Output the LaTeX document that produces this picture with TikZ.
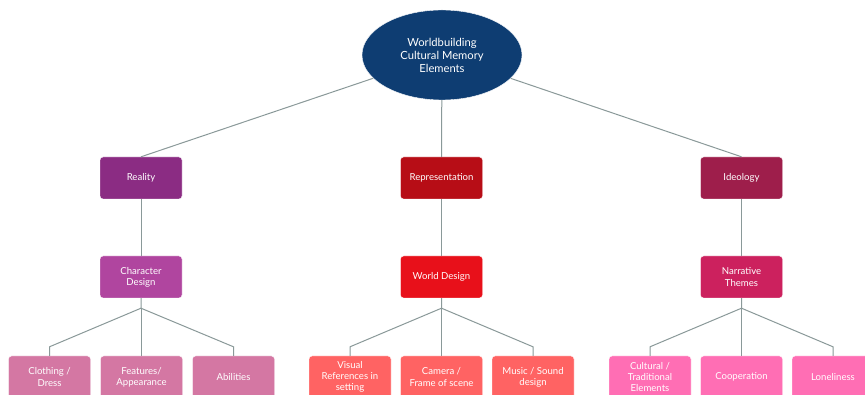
\documentclass[tikz,border=0pt]{standalone}
\usepackage{fontspec}
\setmainfont{Lato}
\usetikzlibrary{shapes.geometric,calc}
\definecolor{rootc}{HTML}{0E3D72}
\definecolor{realc}{HTML}{8B2C83}
\definecolor{repc}{HTML}{B70D16}
\definecolor{ideoc}{HTML}{9E1E4B}
\definecolor{charc}{HTML}{B0459F}
\definecolor{worldc}{HTML}{E8101A}
\definecolor{narrc}{HTML}{CC215E}
\definecolor{leafa}{HTML}{D477A3}
\definecolor{leafb}{HTML}{FF6363}
\definecolor{leafc}{HTML}{FF6EB4}
\definecolor{linec}{HTML}{8A9999}
\begin{document}
\begin{tikzpicture}[x=1pt,y=-1pt,
  box/.style={rectangle,rounded corners=3pt,minimum width=82pt,minimum height=42pt,
    inner sep=1pt,align=center,text=white,font=\fontsize{9.6}{11.2}\selectfont,draw=white,line width=0.4pt},
  conn/.style={draw=linec,line width=1pt}]
\clip (0,0) rectangle (865,395);
\fill[white] (0,0) rectangle (865,395);
\node[ellipse,fill=rootc,draw=white,minimum width=160pt,minimum height=90pt,inner sep=0pt,
  align=center,text=white,font=\fontsize{11.2}{13}\selectfont] (root) at (442,55)
  {Worldbuilding\\Cultural Memory\\Elements};
% level 1
\node[box,fill=realc] (real) at (141,178) {Reality};
\node[box,fill=repc] (rep) at (441.5,178) {Representation};
\node[box,fill=ideoc] (ideo) at (741.5,178) {Ideology};
% level 2
\node[box,fill=charc] (char) at (141,277) {Character\\Design};
\node[box,fill=worldc] (world) at (441.5,277) {World Design};
\node[box,fill=narrc] (narr) at (741.5,277) {Narrative\\Themes};
% level 3
\node[box,fill=leafa] (c1) at (49.5,377) {Clothing /\\Dress};
\node[box,fill=leafa] (c2) at (141.5,377) {Features/\\Appearance};
\node[box,fill=leafa] (c3) at (233.5,377) {Abilities};
\node[box,fill=leafb] (w1) at (350,377) {Visual\\References in\\setting};
\node[box,fill=leafb] (w2) at (441.5,377) {Camera /\\Frame of scene};
\node[box,fill=leafb] (w3) at (533,377) {Music / Sound\\design};
\node[box,fill=leafc] (n1) at (650,377) {Cultural /\\Traditional\\Elements};
\node[box,fill=leafc] (n2) at (741.5,377) {Cooperation};
\node[box,fill=leafc] (n3) at (833,377) {Loneliness};
% connectors
\draw[conn] (root) -- (real.north);
\draw[conn] (root) -- (rep.north);
\draw[conn] (root) -- (ideo.north);
\draw[conn] (real) -- (char);
\draw[conn] (rep) -- (world);
\draw[conn] (ideo) -- (narr);
\foreach \p/\a/\b/\c in {char/c1/c2/c3, world/w1/w2/w3, narr/n1/n2/n3}{
  \coordinate (f) at ($(\p.south)+(0,10)$);
  \draw[conn] (\p.south) -- (f) -- ($(\a.north)+(0,-9)$) -- (\a.north);
  \draw[conn] (f) -- (f -| \b.north) -- (\b.north);
  \draw[conn] (f) -- ($(\c.north)+(0,-9)$) -- (\c.north);
}
\end{tikzpicture}
\end{document}
